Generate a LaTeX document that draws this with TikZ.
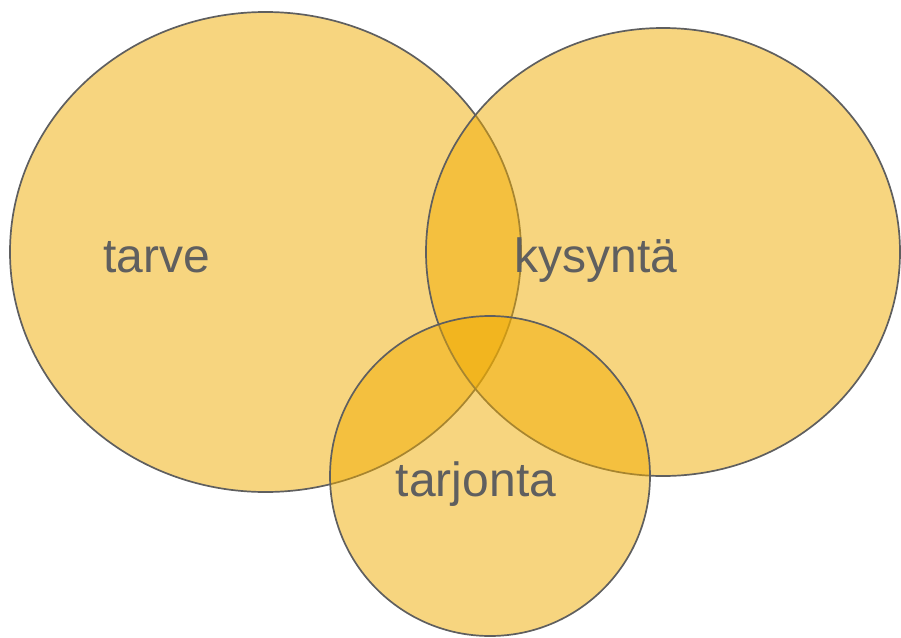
\documentclass[tikz,border=0pt]{standalone}
\usepackage{fontspec}
\setmainfont{Liberation Sans}
\usetikzlibrary{shapes.geometric}
\definecolor{gold}{HTML}{F0AB00}
\definecolor{edge}{HTML}{5F5F5F}
\definecolor{txt}{HTML}{5F5F5F}
\tikzset{
  setshape/.style={ellipse, draw=edge, line width=1.7pt, fill=gold, fill opacity=0.5, draw opacity=1, inner sep=0pt},
  lbl/.style={text=txt, font=\fontsize{48}{50}\selectfont, anchor=base, inner sep=0pt}
}
\begin{document}
\begin{tikzpicture}[x=1pt,y=-1pt]
\useasboundingbox (0,0) rectangle (901,637);
\node[setshape, minimum width=511pt, minimum height=480pt] (tarve) at (265.5,252) {};
\node[setshape, minimum width=474pt, minimum height=448pt] (kysynta) at (663,252) {};
\node[setshape, minimum width=320pt, minimum height=320pt] (tarjonta) at (490,476) {};
\node[lbl] (tarveL) at (157,272) {tarve};
\node[lbl] (kysyntaL) at (596,272) {kysyntä};
\node[lbl] (tarjontaL) at (476,496) {tarjonta};
\end{tikzpicture}
\end{document}
